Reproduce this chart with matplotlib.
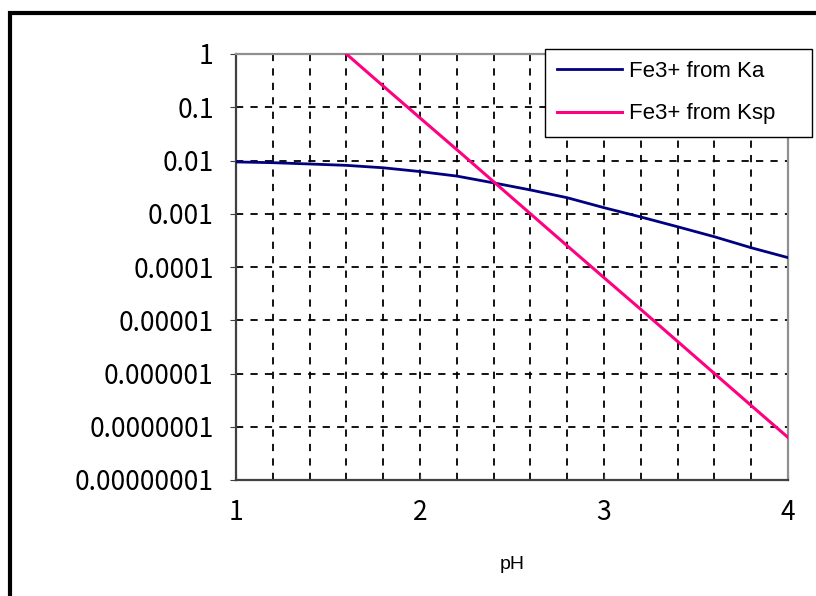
import matplotlib
matplotlib.use("Agg")
import matplotlib.pyplot as plt
from matplotlib.patches import Rectangle
from matplotlib import font_manager
from matplotlib.ticker import FixedLocator, NullFormatter

# data
ph = [1.0, 1.2, 1.4, 1.6, 1.8, 2.0, 2.2, 2.4, 2.6, 2.8, 3.0, 3.2, 3.4, 3.6, 3.8, 4.0]
fe_ka = [0.0094, 0.0091, 0.0086, 0.0081, 0.0073, 0.0062, 0.0051, 0.0038,
         0.0028, 0.0020, 0.0013, 0.00087, 0.00057, 0.00037, 0.00023, 0.00015]
ph_ksp = [1.6, 1.8, 2.0, 2.2, 2.4, 2.6, 2.8, 3.0, 3.2, 3.4, 3.6, 3.8, 4.0]
fe_ksp = [1.0, 0.25, 0.063, 0.016, 0.004, 0.001, 0.00025, 6.3e-5,
          1.6e-5, 4.0e-6, 1.0e-6, 2.5e-7, 6.3e-8]

yticks = [1, 0.1, 0.01, 0.001, 0.0001, 0.00001, 0.000001, 0.0000001, 0.00000001]
ytick_labels = ["1", "0.1", "0.01", "0.001", "0.0001", "0.00001",
                "0.000001", "0.0000001", "0.00000001"]
xticks = [1, 2, 3, 4]
xgrid = [1.2, 1.4, 1.6, 1.8, 2.2, 2.4, 2.6, 2.8, 3.2, 3.4, 3.6, 3.8]

names = {f.name for f in font_manager.fontManager.ttflist}
tick_font = "Liberation Sans Narrow" if "Liberation Sans Narrow" in names else "Noto Sans CJK JP"
text_font = "Liberation Sans"

W, H = 816, 596
fig = plt.figure(figsize=(W / 100, H / 100), dpi=100)

# outer chart frame (runs off the right and bottom edges)
fig.patches.append(Rectangle((10 / W, -0.1), 1.2, (H - 13) / H + 0.1,
                             transform=fig.transFigure, fill=False,
                             edgecolor="black", linewidth=3))

ax = fig.add_axes([236 / W, (H - 480) / H, (788 - 236) / W, (480 - 54) / H])
ax.set_yscale("log")
ax.set_xlim(1, 4)
ax.set_ylim(1e-8, 1)

ax.plot(ph, fe_ka, color="#000080", linewidth=2, label="Fe3+ from Ka", zorder=3)
ax.plot(ph_ksp, fe_ksp, color="#FF0080", linewidth=2.2, label="Fe3+ from Ksp", zorder=3)

ax.set_yticks(yticks)
ax.set_yticklabels(ytick_labels)
ax.yaxis.set_minor_locator(FixedLocator([]))
ax.set_xticks(xticks)
ax.xaxis.set_minor_locator(FixedLocator(xgrid))
ax.xaxis.set_minor_formatter(NullFormatter())

ax.grid(True, which="major", axis="y", color="black", linestyle=(0, (4, 4)), linewidth=1.3)
ax.grid(True, which="both", axis="x", color="black", linestyle=(0, (4, 4)), linewidth=1.3)

for lab in ax.get_xticklabels() + ax.get_yticklabels():
    lab.set_fontfamily(tick_font)
    lab.set_fontsize(19)
ax.tick_params(axis="y", which="major", direction="out", length=4, pad=12, color="#404040")
ax.tick_params(axis="x", which="major", direction="in", length=4, pad=14, color="#404040")
ax.tick_params(axis="x", which="minor", length=0)

ax.spines["left"].set_color("#404040")
ax.spines["bottom"].set_color("#404040")
ax.spines["top"].set_color("#909090")
ax.spines["right"].set_color("#909090")
for s in ax.spines.values():
    s.set_linewidth(1.6)

ax.set_xlabel("pH", fontfamily=text_font, fontsize=14, labelpad=21)

leg = fig.legend(loc="upper left", bbox_to_anchor=(545 / W, 1 - 138 / H, 267 / W, 89 / H),
                 bbox_transform=fig.transFigure, mode="expand", borderaxespad=0,
                 frameon=True, fancybox=False,
                 edgecolor="black", prop={"family": text_font, "size": 16},
                 handlelength=2.9, labelspacing=0.95, borderpad=0.55,
                 handletextpad=0.35)
leg.get_frame().set_linewidth(1.0)
leg.get_frame().set_alpha(1)
leg.set_zorder(10)

fig.savefig("out.png", dpi=100)
